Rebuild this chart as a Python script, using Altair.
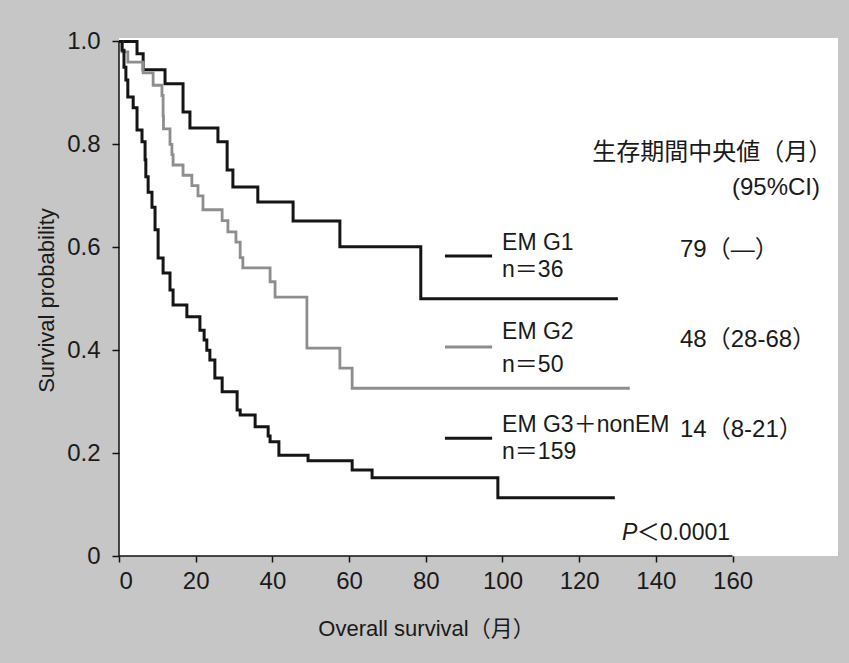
import altair as alt
import pandas as pd

# ---- Kaplan-Meier step data (time in months, survival probability) ----
g1_time = [0, 4.7, 6.3, 12.0, 16.7, 18.5, 25.8, 28.2, 29.7, 36.2, 45.4, 57.6, 78.7, 130.1]
g1_surv = [1.0, 0.976, 0.945, 0.918, 0.863, 0.832, 0.805, 0.750, 0.717, 0.688, 0.651, 0.601, 0.500, 0.500]

g2_time = [0, 0.8, 2.3, 6.3, 8.9, 11.2, 11.5, 11.6, 13.3, 13.8, 14.1, 16.7, 19.0, 20.6, 21.9,
           26.9, 28.4, 30.5, 31.6, 32.3, 39.4, 40.7, 49.0, 57.6, 60.8, 133.2]
g2_surv = [1.0, 0.98, 0.96, 0.939, 0.915, 0.895, 0.855, 0.83, 0.80, 0.78, 0.76, 0.74, 0.72, 0.70, 0.673,
           0.652, 0.63, 0.61, 0.58, 0.56, 0.533, 0.503, 0.404, 0.365, 0.326, 0.326]

g3_time = [0, 0.8, 1.3, 1.8, 2.3, 3.7, 4.7, 6.0, 6.8, 7.0, 7.6, 8.6, 9.4, 10.2, 11.5, 13.3, 14.1,
           17.7, 21.1, 22.2, 22.9, 23.7, 25.0, 26.9, 30.8, 31.6, 35.5, 38.9, 39.4, 41.7, 49.3,
           60.8, 66.0, 98.8, 129.3]
g3_surv = [1.0, 0.983, 0.950, 0.925, 0.892, 0.871, 0.828, 0.805, 0.770, 0.737, 0.707, 0.678, 0.634,
           0.579, 0.550, 0.517, 0.488, 0.465, 0.439, 0.420, 0.400, 0.381, 0.346, 0.319, 0.284,
           0.274, 0.251, 0.233, 0.222, 0.196, 0.185, 0.167, 0.152, 0.113, 0.113]

group_names = ["EM G1", "EM G2", "EM G3＋nonEM"]
group_n = ["n＝36", "n＝50", "n＝159"]
group_median = ["79（—）", "48（28-68）", "14（8-21）"]
x_ticks = [0, 20, 40, 60, 80, 100, 120, 140, 160]
y_ticks = [0, 0.2, 0.4, 0.6, 0.8, 1.0]

FONT = "Liberation Sans, 'Noto Sans CJK JP', sans-serif"
colors = ["#151515", "#8e8e8e", "#151515"]

xs = alt.Scale(domain=[0, 187.5], nice=False, zero=False)
ys = alt.Scale(domain=[0, 1.0068], nice=False, zero=False)

def km(times, surv, color, width):
    df = pd.DataFrame({"t": times, "s": surv})
    return alt.Chart(df).mark_line(interpolate="step-after", color=color, strokeWidth=width).encode(
        x=alt.X("t:Q", scale=xs,
                axis=alt.Axis(values=x_ticks, grid=False, domain=False, tickColor="#111",
                              tickSize=6, tickWidth=1.5, labelFont=FONT, labelFontSize=24,
                              labelColor="#1a1a1a", labelPadding=7,
                              title="Overall survival（月）", titleFont=FONT, titleFontSize=22,
                              titleFontWeight="normal", titleColor="#1a1a1a",
                              titleX=307, titleY=72, titleBaseline="middle", titleAlign="center")),
        y=alt.Y("s:Q", scale=ys,
                axis=alt.Axis(values=y_ticks, grid=False, domain=False, tickColor="#111",
                              tickSize=7, tickWidth=1.5, labelFont=FONT, labelFontSize=24,
                              labelColor="#1a1a1a", labelPadding=12,
                              labelExpr="datum.value == 0 ? '0' : format(datum.value, '.1f')",
                              title="Survival probability", titleFont=FONT, titleFontSize=22,
                              titleFontWeight="normal", titleColor="#1a1a1a",
                              titleX=-73, titleY=262, titleBaseline="middle", titleAlign="center")),
    )

lines = [km(g1_time, g1_surv, colors[0], 3), km(g2_time, g2_surv, colors[1], 2.8),
         km(g3_time, g3_surv, colors[2], 3)]

# axis lines (x axis ends at 160, y axis ends at 1.0)
axis_df = pd.DataFrame({"x": [0, 0], "x2": [160, 0], "y": [0, 0], "y2": [0, 1.0]})
axis_rules = alt.Chart(axis_df).mark_rule(color="#111", strokeWidth=1.5).encode(
    x=alt.X("x:Q", scale=xs), x2="x2:Q", y=alt.Y("y:Q", scale=ys), y2="y2:Q")

# legend layout
leg_line_y = [0.583, 0.406, 0.229]
leg_name_y = [0.608, 0.435, 0.255]
leg_n_y = [0.556, 0.371, 0.202]
med_y = [0.595, 0.42, 0.245]

leg_lines_df = pd.DataFrame({"x": [85] * 3, "x2": [97.3] * 3, "y": leg_line_y, "c": colors})
leg_lines = alt.Chart(leg_lines_df).mark_rule(strokeWidth=3).encode(
    x=alt.X("x:Q", scale=xs), x2="x2:Q", y=alt.Y("y:Q", scale=ys),
    color=alt.Color("c:N", scale=None))

txt_df = pd.DataFrame({
    "x": [99.9] * 6,
    "y": leg_name_y + leg_n_y,
    "label": group_names + group_n,
})
texts = alt.Chart(txt_df).mark_text(align="left", baseline="middle", font=FONT, fontSize=23,
                                    color="#1a1a1a").encode(
    x=alt.X("x:Q", scale=xs), y=alt.Y("y:Q", scale=ys), text="label:N")

med_df = pd.DataFrame({"x": [146.3] * 3, "y": med_y, "label": group_median})
meds = alt.Chart(med_df).mark_text(align="left", baseline="middle", font=FONT, fontSize=24,
                                   color="#1a1a1a").encode(
    x=alt.X("x:Q", scale=xs), y=alt.Y("y:Q", scale=ys), text="label:N")

head_df = pd.DataFrame({"x": [186.0, 182.8], "y": [0.783, 0.715],
                        "label": ["生存期間中央値（月）", "(95%CI)"]})
head = alt.Chart(head_df).mark_text(align="right", baseline="middle", font=FONT, fontSize=24,
                                    color="#1a1a1a").encode(
    x=alt.X("x:Q", scale=xs), y=alt.Y("y:Q", scale=ys), text="label:N")

p_df = pd.DataFrame({"x": [131.2], "y": [0.045], "label": ["P"]})
p_txt = alt.Chart(p_df).mark_text(align="left", baseline="middle", font=FONT, fontSize=23,
                                  fontStyle="italic", color="#1a1a1a").encode(
    x=alt.X("x:Q", scale=xs), y=alt.Y("y:Q", scale=ys), text="label:N")
p2_df = pd.DataFrame({"x": [135.0], "y": [0.045], "label": ["＜0.0001"]})
p2_txt = alt.Chart(p2_df).mark_text(align="left", baseline="middle", font=FONT, fontSize=23,
                                    color="#1a1a1a").encode(
    x=alt.X("x:Q", scale=xs), y=alt.Y("y:Q", scale=ys), text="label:N")

chart = alt.layer(*lines, axis_rules, leg_lines, texts, meds, head, p_txt, p2_txt).properties(
    width=719, height=518,
    autosize=alt.AutoSizeParams(type="none"),
    padding={"left": 119, "top": 38, "right": 11, "bottom": 107},
    background="#c6c6c6",
).configure_view(fill="white", strokeWidth=0)

chart.save("out.html", embed_options={"renderer": "svg", "actions": False})
